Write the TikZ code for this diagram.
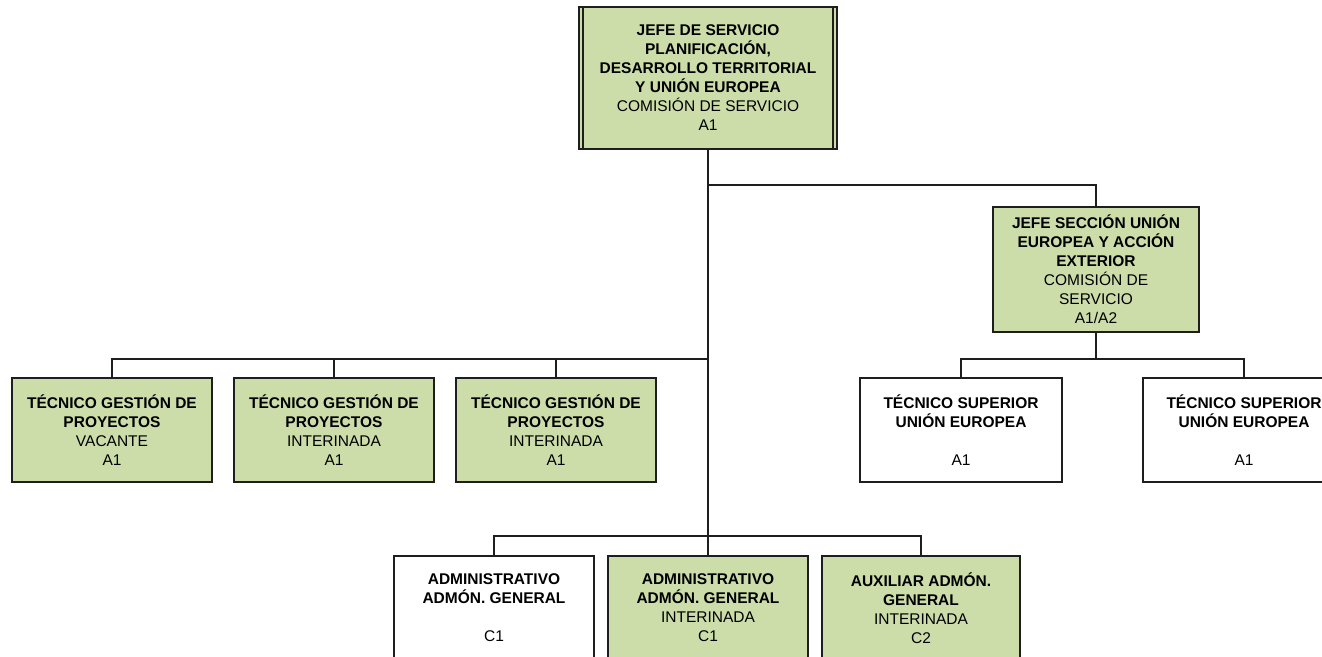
\documentclass[tikz,border=0pt]{standalone}
\usepackage{fontspec}
\setmainfont{Liberation Sans}
\usetikzlibrary{positioning,calc}
\definecolor{puesto}{RGB}{204,221,170}
\definecolor{linea}{RGB}{30,30,30}

\begin{document}
\begin{tikzpicture}[
    x=1pt, y=-1pt,
    box/.style={rectangle, draw=linea, line width=2pt, inner sep=0pt,
                minimum width=200pt, minimum height=104pt, align=center,
                font=\fontsize{15.5}{19}\selectfont},
    verde/.style={box, fill=puesto},
    link/.style={draw=linea, line width=2pt}
]
    \useasboundingbox (0,0) rectangle (1322,656);
    \clip (0,0) rectangle (1322,656);

    % Jefe de servicio
    \node[verde, minimum width=258pt, minimum height=142pt] (jefe) at (708,78)
        {\textbf{JEFE DE SERVICIO}\\\textbf{PLANIFICACIÓN,}\\\textbf{DESARROLLO TERRITORIAL}\\\textbf{Y UNIÓN EUROPEA}\\COMISIÓN DE SERVICIO\\A1};
    \draw[linea, line width=1.2pt] ([xshift=5pt]jefe.north west) -- ([xshift=5pt]jefe.south west);
    \draw[linea, line width=1.2pt] ([xshift=-5pt]jefe.north east) -- ([xshift=-5pt]jefe.south east);

    % Jefe de seccion
    \node[verde, minimum width=206pt, minimum height=125pt] (seccion) at (1096,269.5)
        {\textbf{JEFE SECCIÓN UNIÓN}\\\textbf{EUROPEA Y ACCIÓN}\\\textbf{EXTERIOR}\\COMISIÓN DE\\SERVICIO\\A1/A2};

    % Tecnicos gestion
    \node[verde] (tg1) at (112,430) {\textbf{TÉCNICO GESTIÓN DE}\\\textbf{PROYECTOS}\\VACANTE\\A1};
    \node[verde] (tg2) at (334,430) {\textbf{TÉCNICO GESTIÓN DE}\\\textbf{PROYECTOS}\\INTERINADA\\A1};
    \node[verde] (tg3) at (556,430) {\textbf{TÉCNICO GESTIÓN DE}\\\textbf{PROYECTOS}\\INTERINADA\\A1};

    % Tecnicos superiores
    \node[box, minimum width=202pt] (ts1) at (961,430) {\textbf{TÉCNICO SUPERIOR}\\\textbf{UNIÓN EUROPEA}\\[19pt]A1};
    \node[box, minimum width=202pt] (ts2) at (1244,430) {\textbf{TÉCNICO SUPERIOR}\\\textbf{UNIÓN EUROPEA}\\[19pt]A1};

    % Administracion
    \node[box] (adm1) at (494,608) {\textbf{ADMINISTRATIVO}\\\textbf{ADMÓN. GENERAL}\\[19pt]C1};
    \node[verde] (adm2) at (708,608) {\textbf{ADMINISTRATIVO}\\\textbf{ADMÓN. GENERAL}\\INTERINADA\\C1};
    \node[verde, minimum width=198pt] (aux) at (921,608) {\textbf{AUXILIAR ADMÓN.}\\\textbf{GENERAL}\\INTERINADA\\C2};

    % Lines
    \coordinate (forkS) at (708,185);
    \coordinate (busT) at (708,359);
    \coordinate (busS) at (1096,359);
    \coordinate (busA) at (708,536);

    \draw[link] (jefe.south) -- (adm2.north);
    \draw[link] (forkS) -| (seccion.north);
    \draw[link] (busT) -| (tg1.north);
    \draw[link] (busT) -| (tg2.north);
    \draw[link] (busT) -| (tg3.north);
    \draw[link] (seccion.south) -- (busS);
    \draw[link] (busS) -| (ts1.north);
    \draw[link] (busS) -| (ts2.north);
    \draw[link] (busA) -| (adm1.north);
    \draw[link] (busA) -| (aux.north);
\end{tikzpicture}
\end{document}
